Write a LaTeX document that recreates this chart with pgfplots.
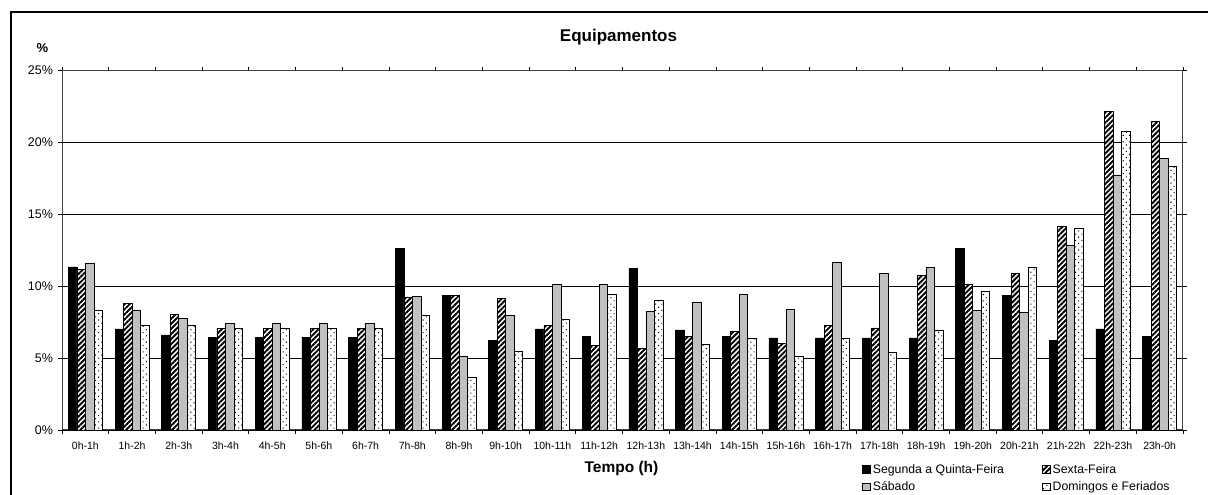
\documentclass[border=0pt]{standalone}
\usepackage{fontspec}
\setmainfont{Liberation Sans}
\usepackage{pgfplots}
\usepackage{pgfplotstable}
\pgfplotsset{compat=1.18}
\usetikzlibrary{patterns.meta}
\definecolor{silver}{HTML}{C0C0C0}

\pgfplotstableread{
x a b c d
0 11.35 11.18 11.58 8.33
1 7.03 8.82 8.33 7.29
2 6.61 8.05 7.75 7.29
3 6.47 7.08 7.42 7.08
4 6.47 7.08 7.42 7.08
5 6.47 7.08 7.42 7.08
6 6.47 7.08 7.42 7.08
7 12.64 9.26 9.31 7.99
8 9.38 9.38 5.14 3.68
9 6.23 9.17 7.99 5.49
10 7.04 7.29 10.14 7.71
11 6.53 5.90 10.14 9.44
12 11.27 5.69 8.26 9.05
13 6.97 6.53 8.91 5.97
14 6.53 6.88 9.44 6.39
15 6.41 6.04 8.40 5.14
16 6.41 7.29 11.67 6.39
17 6.41 7.11 10.90 5.42
18 6.41 10.76 11.32 6.94
19 12.64 10.14 8.33 9.65
20 9.38 10.90 8.17 11.32
21 6.23 14.17 12.85 14.03
22 7.04 22.15 17.75 20.76
23 6.53 21.46 18.89 18.33
}\data

\begin{document}
\begin{tikzpicture}
\path[use as bounding box] (0pt,0pt) rectangle (1208pt,495pt);
\draw[line width=2pt] (11pt,0pt) -- (11pt,483pt) -- (1208pt,483pt);
\begin{axis}[
  at={(62pt,65pt)}, anchor=south west,
  scale only axis, width=1121pt, height=359.3pt,
  xmin=-0.5, xmax=23.5, ymin=0, ymax=25,
  ybar=0pt, bar width=8.5pt,
  xtick={-0.5,0.5,...,23.5}, xticklabel={\empty},
  extra x ticks={0,1,...,23},
  extra x tick labels={0h-1h,1h-2h,2h-3h,3h-4h,4h-5h,5h-6h,6h-7h,7h-8h,8h-9h,9h-10h,10h-11h,11h-12h,12h-13h,13h-14h,14h-15h,15h-16h,16h-17h,17h-18h,18h-19h,19h-20h,20h-21h,21h-22h,22h-23h,23h-0h},
  extra x tick style={major tick length=0pt, xticklabel style={yshift=-8.5pt}},
  xticklabel style={font=\fontsize{10.5}{12}\selectfont},
  ytick={0,5,10,15,20,25},
  yticklabels={0\%,5\%,10\%,15\%,20\%,25\%},
  yticklabel style={font=\fontsize{12.5}{14}\selectfont, xshift=-1.5pt},
  tick align=outside, major tick length=4pt,
  tick style={black, line width=0.8pt},
  ymajorgrids, grid style={black, line width=0.8pt},
  axis line style={black!75, line width=1pt},
  legend columns=2,
  legend cell align=left,
  legend style={draw=none, fill=none, at={(axis description cs:0.7110,-0.084)}, anchor=north west,
    font=\fontsize{12.3}{14}\selectfont, row sep=3pt,
    /tikz/column 2/.style={column sep=36pt}},
  legend image code/.code={\draw[#1] (0pt,-3.5pt) rectangle (8pt,4pt);},
]
\addplot[draw=black, line width=0.6pt, fill=black] table[x=x,y=a] {\data};
\addplot[draw=black, line width=0.6pt, fill=white, postaction={pattern={Lines[angle=45,distance=3.6pt,line width=1.9pt]}}] table[x=x,y=b] {\data};
\addplot[draw=black, line width=0.6pt, fill=silver] table[x=x,y=c] {\data};
\addplot[draw=black, line width=0.6pt, fill=white, postaction={pattern={Dots[distance=4.5pt,radius=0.75pt,angle=45]}}] table[x=x,y=d] {\data};
\legend{Segunda a Quinta-Feira, Sexta-Feira, Sábado, Domingos e Feriados}
\end{axis}
\node[font=\bfseries\fontsize{17}{19}\selectfont] at (618.5pt,458pt) {Equipamentos};
\node[font=\bfseries\fontsize{13}{15}\selectfont] at (42.5pt,447pt) {\%};
\node[font=\bfseries\fontsize{15.5}{17}\selectfont] at (621.5pt,27pt) {Tempo (h)};
\end{tikzpicture}
\end{document}
